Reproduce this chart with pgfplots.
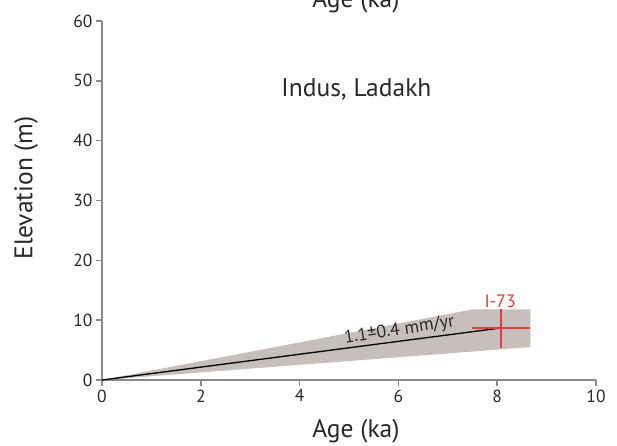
\documentclass[border=0pt]{standalone}
\usepackage{fontspec}
\setmainfont{PT Sans}
\usepackage{pgfplots}
\pgfplotsset{compat=1.18}
\definecolor{wedge}{RGB}{198,191,188}
\definecolor{agered}{RGB}{229,57,59}
\definecolor{axgray}{RGB}{140,138,136}
\definecolor{txt}{RGB}{40,40,40}
\begin{document}
\begin{tikzpicture}
\useasboundingbox (-102pt,-65pt) rectangle (515pt,380pt);
\begin{axis}[
  scale only axis,
  width=494pt, height=359pt,
  xmin=0, xmax=10, ymin=0, ymax=60,
  xtick={0,2,...,10}, ytick={0,10,...,60},
  axis lines*=left,
  axis line style={axgray, line width=1.6pt},
  tick style={axgray, line width=1.6pt},
  tick align=outside,
  major tick length=6pt,
  ticklabel style={font=\fontsize{17.5}{20}\selectfont, text=txt},
  /pgf/number format/assume math mode=true,
  clip=false,
  every axis x label/.style={at={(rel axis cs:0.514,0)}, anchor=base, yshift=-57pt},
  every axis y label/.style={at={(rel axis cs:0,0.535)}, rotate=90, anchor=center, yshift=76pt},
  label style={font=\fontsize{25.5}{28}\selectfont, text=txt},
  xlabel={Age (ka)},
  ylabel={Elevation (m)},
]
% envelope
\addplot[fill=wedge, draw=none] coordinates {(0,0) (7.5,11.8) (8.67,11.8) (8.67,5.5) (0,0)} -- cycle;
% rate line
\addplot[black, line width=1.3pt] coordinates {(0,0) (8.08,8.7)};
% sample I-73: age and elevation ranges
\addplot[draw=agered, line width=1.7pt] coordinates {(7.48,8.65) (8.67,8.65)};
\addplot[draw=agered, line width=1.7pt] coordinates {(8.08,5.4) (8.08,11.8)};
\node[text=txt, font=\fontsize{25.5}{28}\selectfont] at (axis cs:5.15,48.6) {Indus, Ladakh};
\node[text=agered, font=\fontsize{18}{20}\selectfont] at (axis cs:8.06,13.2) {I-73};
\node[text=txt, font=\fontsize{18}{20}\selectfont, rotate=8.5] at (axis cs:6.02,8.3) {1.1±0.4 mm/yr};
\node[text=txt, font=\fontsize{25.5}{28}\selectfont, anchor=base] at (rel axis cs:0.514,1) [yshift=14pt] {Age (ka)};
\end{axis}
\end{tikzpicture}
\end{document}
